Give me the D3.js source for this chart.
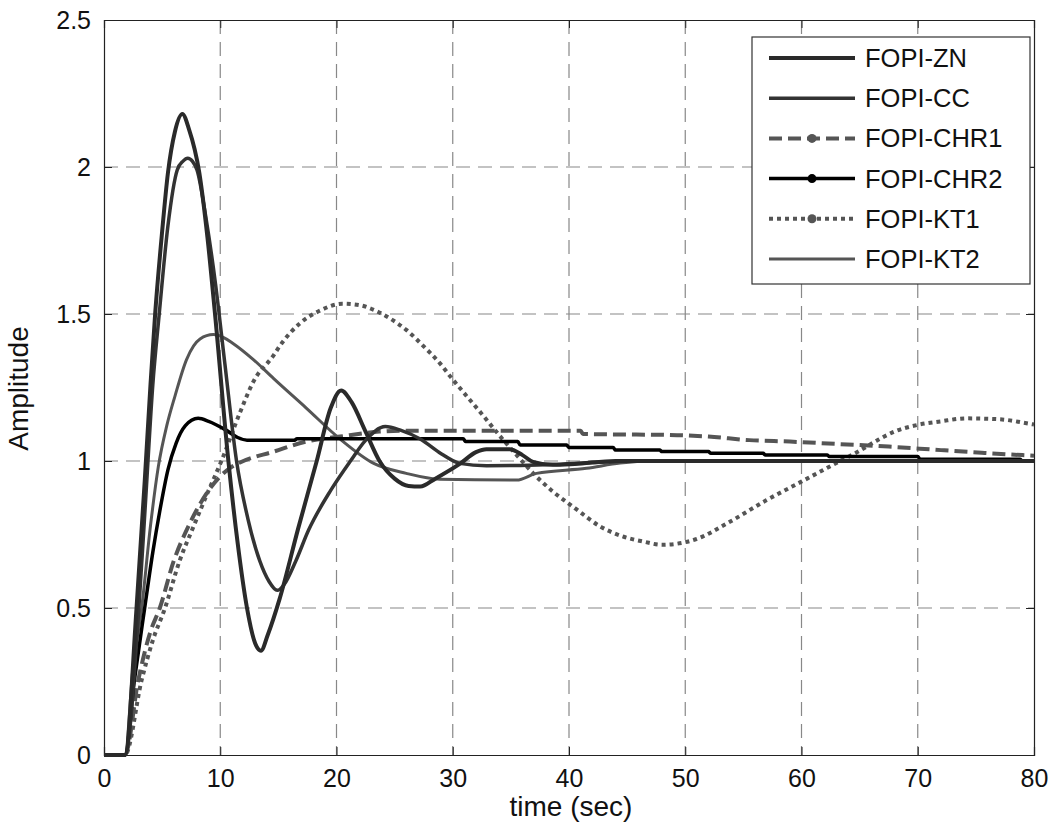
<!DOCTYPE html>
<html>
<head>
<meta charset="utf-8">
<script src="https://cdn.jsdelivr.net/npm/d3@7"></script>
<style>
  body { margin: 0; background: #fff; }
  svg { font-family: "Liberation Sans", Arial, sans-serif; }
</style>
</head>
<body>
<div id="chart"></div>
<script>
// step responses, [time, amplitude] pairs
let fopiZN = [[0,0],[1.8,0],[2.8,0.5],[3.5,0.93],[4.0,1.26],[4.4,1.5],[5.0,1.78],[5.5,1.98],[6.1,2.12],[6.74,2.18],[7.3,2.13],[8.2,1.98],[8.9,1.76],[9.55,1.5],[10.7,1.0],[11.5,0.72],[12.3,0.5],[13.0,0.38],[13.5,0.355],[14.1,0.41],[15.1,0.53],[16.7,0.77],[18.3,1.0],[19.5,1.18],[20.4,1.24],[21.3,1.2],[22.5,1.1],[23.7,1.0],[25,0.94],[26.2,0.915],[27.2,0.913],[28.5,0.94],[30.6,0.99],[32.0,1.03],[32.9,1.04],[34.9,1.04],[36.0,1.02],[36.9,0.997],[38.6,0.987],[40.5,0.99],[44,1.0],[80,1.0]]

let fopiCC = [[0,0],[1.8,0],[3.0,0.5],[3.6,0.88],[4.2,1.26],[4.75,1.5],[5.5,1.8],[6.3,1.99],[6.8,2.02],[7.2,2.03],[7.6,2.02],[8.0,1.99],[8.8,1.82],[9.6,1.6],[10.4,1.33],[11.4,1.0],[12.4,0.8],[13.4,0.66],[14.2,0.59],[14.9,0.56],[15.5,0.58],[16.5,0.66],[17.6,0.765],[19.5,0.9],[21.2,1.0],[22.5,1.07],[24.2,1.117],[25.5,1.105],[27.2,1.075],[29,1.025],[30.6,0.992],[32.9,0.984],[35.8,0.985],[38.6,0.988],[42,0.995],[46,1.0],[80,1.0]]

let fopiCHR1 = [[0,0],[1.8,0],[2.95,0.255],[4.0,0.42],[4.8,0.5],[6.0,0.66],[7.25,0.777],[9,0.9],[10.8,0.975],[11.7,0.995],[14.6,1.032],[17.4,1.066],[20.3,1.083],[23.7,1.1],[25.5,1.103],[41,1.103],[41.2,1.092],[49.3,1.088],[52,1.083],[55.5,1.071],[59,1.066],[63,1.058],[67.5,1.049],[72,1.037],[75.5,1.028],[79,1.02],[80,1.018]]

let fopiCHR2 = [[0,0],[1.8,0],[2.6,0.25],[3.5,0.5],[4.2,0.69],[4.8,0.83],[5.5,0.97],[6.2,1.06],[7.0,1.12],[8.1,1.145],[9,1.135],[10.5,1.105],[11.5,1.08],[12.3,1.071],[16.4,1.071],[16.6,1.076],[30.9,1.076],[31.1,1.066],[35.6,1.066],[35.8,1.054],[39.8,1.054],[40,1.046],[43.8,1.046],[44,1.037],[47.8,1.037],[48,1.032],[52,1.032],[52.2,1.026],[56.7,1.026],[56.9,1.02],[62.2,1.02],[62.4,1.015],[70,1.015],[70.2,1.006],[78.8,1.006],[79,1.0],[80,1.0]]

let fopiKT1 = [[0,0],[1.8,0],[3.24,0.255],[4.2,0.39],[5.25,0.5],[6.5,0.66],[7.7,0.777],[9,0.9],[10.1,1.0],[11.7,1.165],[12.85,1.27],[14.6,1.36],[15.1,1.39],[16.9,1.47],[18.5,1.51],[20.5,1.535],[22,1.53],[23.2,1.514],[24.6,1.485],[26,1.446],[27.5,1.39],[28.9,1.332],[29.8,1.287],[31,1.23],[32.5,1.16],[34.1,1.083],[35.5,1.02],[36.9,0.959],[38.5,0.9],[40.5,0.84],[42.7,0.777],[44.5,0.745],[46.5,0.725],[48,0.715],[49.5,0.72],[51,0.735],[53.6,0.788],[57,0.867],[60,0.93],[63,0.993],[65,1.035],[66.5,1.07],[68,1.1],[69.9,1.122],[72,1.135],[74.2,1.145],[77,1.142],[79.7,1.126],[80,1.124]]

let fopiKT2 = [[0,0],[1.8,0],[2.5,0.3],[3.24,0.5],[4.0,0.78],[4.67,0.98],[5.4,1.12],[6.1,1.22],[7.1,1.345],[8.26,1.415],[9.4,1.43],[10.3,1.42],[11.1,1.40],[12.85,1.345],[14.6,1.28],[17.4,1.18],[20.3,1.075],[23.2,0.992],[26,0.958],[28.9,0.938],[35.5,0.935],[37.2,0.958],[41.5,0.975],[44.4,0.993],[47,1.0],[80,1.0]]

let seriesNames = ['FOPI-ZN', 'FOPI-CC', 'FOPI-CHR1', 'FOPI-CHR2', 'FOPI-KT1', 'FOPI-KT2']
let xTicks = [0, 10, 20, 30, 40, 50, 60, 70, 80]
let yTicks = [0, 0.5, 1, 1.5, 2, 2.5]

let series = [
  { name: seriesNames[0], data: fopiZN, color: '#2a2a2a', w: 4, dash: null, dot: false },
  { name: seriesNames[1], data: fopiCC, color: '#333', w: 3.5, dash: null, dot: false },
  { name: seriesNames[2], data: fopiCHR1, color: '#555', w: 4, dash: '13,6', dot: true },
  { name: seriesNames[3], data: fopiCHR2, color: '#000', w: 3.5, dash: null, dot: true },
  { name: seriesNames[4], data: fopiKT1, color: '#555', w: 4, dash: '4,4', dot: true },
  { name: seriesNames[5], data: fopiKT2, color: '#555', w: 3, dash: null, dot: false }
]

var margin = { top: 20, right: 23, bottom: 78, left: 104 }
var width = 1057 - margin.left - margin.right
var height = 833 - margin.top - margin.bottom

var x = d3.scaleLinear().domain([0, 80]).range([0, width])
var y = d3.scaleLinear().domain([0, 2.5]).range([height, 0])

var svg = d3.select('#chart').append('svg')
  .attr('width', 1057)
  .attr('height', 833)
  .append('g')
  .attr('transform', 'translate(' + margin.left + ',' + margin.top + ')')

// dashed grid
svg.append('g').selectAll('line')
  .data(xTicks.slice(1, -1))
  .enter().append('line')
  .attr('x1', d => x(d)).attr('x2', d => x(d))
  .attr('y1', 0).attr('y2', height)
  .attr('stroke', '#888').attr('stroke-width', 1.2)
  .attr('stroke-dasharray', '14,8')

svg.append('g').selectAll('line')
  .data(yTicks.slice(1, -1))
  .enter().append('line')
  .attr('x1', 0).attr('x2', width)
  .attr('y1', d => y(d)).attr('y2', d => y(d))
  .attr('stroke', '#888').attr('stroke-width', 1.2)
  .attr('stroke-dasharray', '14,8')

// axes, ticks inside like matlab
var xAxis = d3.axisBottom(x).tickValues(xTicks).tickSize(-8).tickPadding(14)
var yAxis = d3.axisLeft(y).tickValues(yTicks).tickSize(-8).tickPadding(13).tickFormat(d3.format('~g'))

svg.append('g')
  .attr('class', 'x axis')
  .attr('transform', 'translate(0,' + height + ')')
  .call(xAxis)

svg.append('g')
  .attr('class', 'y axis')
  .call(yAxis)

svg.append('g')
  .call(d3.axisTop(x).tickValues(xTicks).tickSize(-8).tickFormat(''))
svg.append('g')
  .attr('transform', 'translate(' + width + ',0)')
  .call(d3.axisRight(y).tickValues(yTicks).tickSize(-8).tickFormat(''))

svg.selectAll('.domain').attr('stroke', '#222').attr('stroke-width', 1.2)
svg.selectAll('.tick line').attr('stroke', '#222')
svg.selectAll('.tick text').attr('font-size', 25).attr('fill', '#111')
  .attr('font-family', '"Liberation Sans", Arial, sans-serif')

var line = d3.line()
  .x(d => x(d[0]))
  .y(d => y(d[1]))
  .curve(d3.curveMonotoneX)

var order = [5, 4, 2, 3, 1, 0]
order.forEach(i => {
  let s = series[i]
  svg.append('path')
    .datum(s.data)
    .attr('fill', 'none')
    .attr('stroke', s.color)
    .attr('stroke-width', s.w)
    .attr('stroke-dasharray', s.dash)
    .attr('stroke-linejoin', 'round')
    .attr('d', line)
})

// axis titles
svg.append('text')
  .attr('x', width / 2 + 2)
  .attr('y', height + 61)
  .attr('text-anchor', 'middle')
  .attr('font-size', 28)
  .attr('fill', '#111')
  .text('time (sec)')

svg.append('text')
  .attr('transform', 'translate(' + (-76) + ',' + (height / 2 + 1) + ') rotate(-90)')
  .attr('text-anchor', 'middle')
  .attr('font-size', 28)
  .attr('fill', '#111')
  .text('Amplitude')

// legend
var lg = svg.append('g').attr('transform', 'translate(' + (752 - margin.left) + ',' + (37 - margin.top) + ')')
lg.append('rect')
  .attr('width', 278).attr('height', 247)
  .attr('fill', '#fff').attr('stroke', '#333').attr('stroke-width', 1.2)

series.forEach((s, i) => {
  let cy = 21 + i * 40.2
  lg.append('line')
    .attr('x1', 17).attr('x2', 103)
    .attr('y1', cy).attr('y2', cy)
    .attr('stroke', s.color).attr('stroke-width', s.w)
    .attr('stroke-dasharray', s.dash)
  if (s.dot) {
    lg.append('circle')
      .attr('cx', 60).attr('cy', cy).attr('r', 4.5)
      .attr('fill', s.color)
  }
  lg.append('text')
    .attr('x', 113).attr('y', cy + 9)
    .attr('font-size', 25.5)
    .attr('fill', '#111')
    .text(s.name)
})
</script>
</body>
</html>
